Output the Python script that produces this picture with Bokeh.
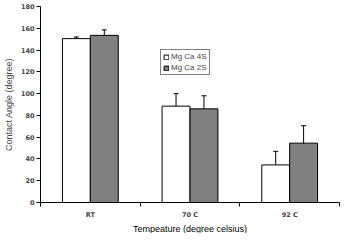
from bokeh.plotting import figure
from bokeh.models import ColumnDataSource, FixedTicker, Whisker, TeeHead, Legend, LegendItem, Range1d, Title
from bokeh.embed import file_html
from bokeh.resources import INLINE

categories = ["RT", "70 C", "92 C"]
mg4s = [150.5, 88.5, 34.5]
mg4s_err_up = [1.5, 11.5, 12.5]
mg4s_err_low = [1.5, 8.0, 6.0]
mg2s = [153.5, 86.0, 54.5]
mg2s_err_up = [5.0, 12.0, 16.0]
mg2s_err_low = [1.0, 4.0, 1.5]
y_ticks = list(range(0, 181, 20))

bar_w = 0.28
centers = [i + 0.5 for i in range(len(categories))]

src4 = ColumnDataSource(dict(
    x=[c - bar_w / 2 for c in centers], top=mg4s,
    upper=[v + e for v, e in zip(mg4s, mg4s_err_up)],
    lower=[v - e for v, e in zip(mg4s, mg4s_err_low)]))
src2 = ColumnDataSource(dict(
    x=[c + bar_w / 2 for c in centers], top=mg2s,
    upper=[v + e for v, e in zip(mg2s, mg2s_err_up)],
    lower=[v - e for v, e in zip(mg2s, mg2s_err_low)]))

p = figure(width=347, height=233, output_backend="svg", toolbar_location=None,
           x_range=Range1d(0, len(categories)), y_range=Range1d(0, 180),
           min_border_left=27, min_border_right=8, min_border_top=6, min_border_bottom=0)
p.outline_line_color = None
p.xgrid.visible = False
p.ygrid.visible = False
p.background_fill_color = "white"

r4 = p.vbar(x="x", top="top", width=bar_w, source=src4, fill_color="white", line_color="black", line_width=1)
r2 = p.vbar(x="x", top="top", width=bar_w, source=src2, fill_color="#808080", line_color="black", line_width=1)

for s in (src4, src2):
    w = Whisker(source=s, base="x", upper="upper", lower="lower", line_color="black", line_width=1,
                upper_head=TeeHead(size=5, line_color="black", line_width=1),
                lower_head=TeeHead(size=5, line_color="black", line_width=1))
    p.add_layout(w)

# axes
p.yaxis.ticker = FixedTicker(ticks=y_ticks)
p.yaxis.major_tick_out = 4
p.yaxis.major_tick_in = 0
p.yaxis.minor_tick_line_color = None
p.yaxis.axis_label = "Contact Angle (degree)"
p.yaxis.major_label_text_font_size = "6.5px"
p.yaxis.major_label_text_font_style = "bold"
p.yaxis.major_label_text_font = "DejaVu Sans"
p.yaxis.axis_label_text_font_size = "9px"
p.yaxis.axis_label_text_font_style = "normal"
p.yaxis.axis_label_text_font = "Liberation Sans"
p.yaxis.axis_label_standoff = 4
p.yaxis.major_label_standoff = 2

p.xaxis.ticker = FixedTicker(ticks=centers, minor_ticks=list(range(len(categories) + 1)))
p.xaxis.major_label_overrides = {c: lab for c, lab in zip(centers, categories)}
p.xaxis.major_tick_out = 0
p.xaxis.major_tick_in = 0
p.xaxis.minor_tick_out = 4
p.xaxis.minor_tick_in = 0
p.xaxis.major_label_text_font_size = "6.5px"
p.xaxis.major_label_text_font_style = "bold"
p.xaxis.major_label_text_font = "DejaVu Sans"
p.xaxis.major_label_standoff = 4

xtitle = Title(text="Tempeature (degree celsius)", align="center", text_font_size="9px",
               text_font="Liberation Sans", text_font_style="normal", text_color="black",
               standoff=0, offset=0)
p.add_layout(xtitle, "below")

legend = Legend(items=[LegendItem(label="Mg Ca 4S", renderers=[r4]),
                       LegendItem(label="Mg Ca 2S", renderers=[r2])],
                location=(120, 127), orientation="vertical",
                border_line_color="black", border_line_width=1,
                background_fill_color="white", background_fill_alpha=1,
                label_text_font_size="8px", label_text_font="Liberation Sans",
                glyph_width=6, glyph_height=6, label_standoff=2,
                padding=2, spacing=2, margin=0, label_height=9)
p.add_layout(legend)

open("out.html", "w").write(file_html(p, INLINE))
